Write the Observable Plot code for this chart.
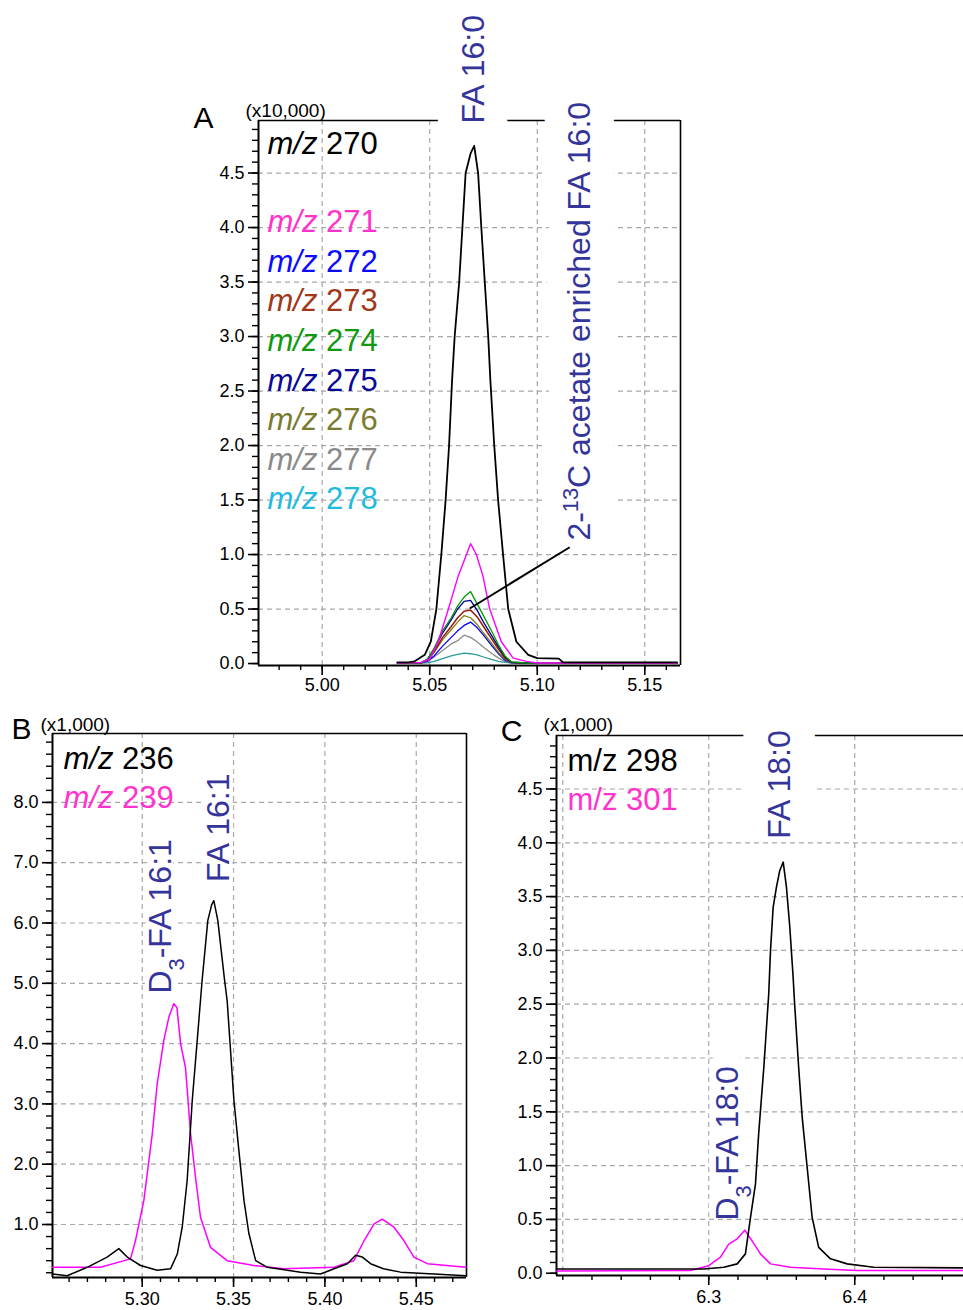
<!DOCTYPE html>
<html><head><meta charset="utf-8">
<script src="https://cdn.jsdelivr.net/npm/d3@7"></script>
<script src="https://cdn.jsdelivr.net/npm/@observablehq/plot@0.6"></script>
<style>
body{margin:0;background:#fff;}
#fig{position:relative;width:963px;height:1310px;overflow:hidden;background:#fff;}
#fig svg{position:absolute;}
</style></head><body><div id="fig"></div>
<script>
// ================= PANEL A (x10,000) =================
const rt270  = [5.035, 5.040, 5.043, 5.0477, 5.0505, 5.0531, 5.0554, 5.0574, 5.059, 5.0604, 5.0616, 5.0637, 5.0652, 5.0667, 5.069, 5.0707, 5.0725, 5.074, 5.0756, 5.0772, 5.0782, 5.080, 5.0818, 5.0841, 5.0865, 5.0903, 5.0958, 5.100, 5.110, 5.112, 5.165];
const int270 = [0.01, 0.01, 0.02, 0.08, 0.2, 0.5, 1.0, 1.5, 2.0, 2.6, 3.0, 3.5, 4.0, 4.5, 4.68, 4.75, 4.5, 4.0, 3.5, 3.0, 2.6, 2.0, 1.5, 1.0, 0.5, 0.2, 0.08, 0.05, 0.045, 0.01, 0.01];
const rt271  = [5.035, 5.046, 5.050, 5.0539, 5.0587, 5.0632, 5.0671, 5.069, 5.0717, 5.0748, 5.0779, 5.0833, 5.0888, 5.095, 5.100, 5.165];
const int271 = [0.005, 0.01, 0.04, 0.2, 0.5, 0.8, 1.0, 1.1, 1.0, 0.8, 0.5, 0.2, 0.05, 0.02, 0.005, 0.005];
const rtA    = [5.035, 5.046, 5.049, 5.052, 5.056, 5.060, 5.063, 5.066, 5.069, 5.072, 5.075, 5.079, 5.082, 5.085, 5.088, 5.095, 5.165];
const int272 = [0.005, 0.005, 0.02, 0.07, 0.16, 0.24, 0.30, 0.35, 0.38, 0.33, 0.26, 0.16, 0.09, 0.03, 0.008, 0.005, 0.005];
const int273 = [0.005, 0.006, 0.03, 0.11, 0.24, 0.34, 0.42, 0.48, 0.49, 0.43, 0.34, 0.22, 0.13, 0.05, 0.01, 0.005, 0.005];
const int274 = [0.005, 0.006, 0.04, 0.14, 0.30, 0.42, 0.53, 0.61, 0.66, 0.55, 0.44, 0.29, 0.17, 0.07, 0.015, 0.005, 0.005];
const int275 = [0.005, 0.006, 0.04, 0.13, 0.28, 0.40, 0.50, 0.57, 0.58, 0.49, 0.38, 0.25, 0.15, 0.06, 0.012, 0.005, 0.005];
const int276 = [0.005, 0.005, 0.03, 0.10, 0.22, 0.31, 0.38, 0.44, 0.42, 0.36, 0.28, 0.18, 0.10, 0.04, 0.01, 0.005, 0.005];
const int277 = [0.005, 0.005, 0.02, 0.06, 0.12, 0.18, 0.21, 0.26, 0.24, 0.20, 0.15, 0.09, 0.05, 0.02, 0.006, 0.005, 0.005];
const int278 = [0.003, 0.003, 0.006, 0.02, 0.045, 0.07, 0.085, 0.095, 0.09, 0.08, 0.06, 0.035, 0.02, 0.01, 0.004, 0.003, 0.003];
const legendTextA  = ["m/z 270", "m/z 271", "m/z 272", "m/z 273", "m/z 274", "m/z 275", "m/z 276", "m/z 277", "m/z 278"];
const legendColorA = ["#000000", "#ff33cc", "#0a0aff", "#a0381a", "#119911", "#0a0a99", "#7a7a30", "#8a8a8a", "#22bbdd"];
const labelTextA = ["FA 16:0", "2-13C acetate enriched FA 16:0"];
const labelRtA   = [5.0707, 5.1196];
const labelIntA  = [4.954, 1.128];
const labelPadA  = [24, 24];
const maskShiftA = [1, -1];   // mask pushed down (+) or up (-) by its padding
const leaderA = {x1: 5.0686, y1: 0.505, x2: 5.1151, y2: 1.067};

// ================= PANEL B (x1,000) =================
const rt236  = [5.2509, 5.2589, 5.2699, 5.2808, 5.2872, 5.2918, 5.2991, 5.3082, 5.3155, 5.3192, 5.3219, 5.3246, 5.3274, 5.3301, 5.3328, 5.3359, 5.3380, 5.3392, 5.3400, 5.3414, 5.3451, 5.3465, 5.3502, 5.3529, 5.3557, 5.3584, 5.3621, 5.3685, 5.3867, 5.3976, 5.405, 5.4123, 5.4168, 5.4205, 5.425, 5.432, 5.4414, 5.4597, 5.4772];
const int236 = [0.18, 0.15, 0.29, 0.46, 0.60, 0.46, 0.32, 0.24, 0.265, 0.51, 0.955, 1.73, 3.06, 4.05, 5.05, 6.04, 6.30, 6.37, 6.25, 6.04, 5.05, 4.71, 3.06, 2.23, 1.40, 0.85, 0.40, 0.29, 0.21, 0.18, 0.265, 0.35, 0.49, 0.46, 0.35, 0.265, 0.21, 0.18, 0.15];
const rt239  = [5.2509, 5.2772, 5.2936, 5.2963, 5.3009, 5.3055, 5.3082, 5.3118, 5.3146, 5.3173, 5.3190, 5.321, 5.3237, 5.3265, 5.3292, 5.3319, 5.3374, 5.3465, 5.3611, 5.3775, 5.405, 5.4159, 5.4214, 5.4269, 5.4314, 5.4378, 5.4433, 5.4487, 5.4561, 5.4772];
const int239 = [0.29, 0.29, 0.43, 0.73, 1.40, 2.5, 3.33, 4.05, 4.44, 4.66, 4.6, 4.0, 3.6, 2.5, 1.78, 1.12, 0.62, 0.40, 0.32, 0.265, 0.29, 0.40, 0.73, 1.01, 1.09, 0.955, 0.73, 0.46, 0.35, 0.29];
const legendTextB  = ["m/z 236", "m/z 239"];
const legendColorB = ["#000000", "#ff33cc"];
const labelTextB = ["D3-FA 16:1", "FA 16:1"];
const labelRtB   = [5.3101, 5.3421];
const labelIntB  = [4.83, 6.68];
const labelPadB  = [4, 4];
const maskShiftB = [-1, -1];

// ================= PANEL C (x1,000) =================
const rt298  = [6.1957, 6.2966, 6.3103, 6.3195, 6.3251, 6.3286, 6.332, 6.3342, 6.3377, 6.3411, 6.3423, 6.3441, 6.3464, 6.3486, 6.351, 6.3532, 6.3555, 6.3578, 6.3587, 6.3616, 6.364, 6.3674, 6.3708, 6.3753, 6.3834, 6.3948, 6.413, 6.4745];
const int298 = [0.04, 0.04, 0.056, 0.087, 0.18, 0.52, 0.83, 1.30, 1.91, 2.6, 3.0, 3.4, 3.59, 3.74, 3.82, 3.59, 3.22, 2.75, 2.53, 1.91, 1.45, 0.985, 0.52, 0.24, 0.134, 0.087, 0.056, 0.05];
const rt301  = [6.1957, 6.2875, 6.30, 6.308, 6.3137, 6.3195, 6.3247, 6.3297, 6.3354, 6.3423, 6.356, 6.3788, 6.4016, 6.4745];
const int301 = [0.02, 0.025, 0.07, 0.15, 0.27, 0.32, 0.40, 0.30, 0.18, 0.087, 0.056, 0.04, 0.025, 0.025];
const legendTextC  = ["m/z 298", "m/z 301"];
const legendColorC = ["#000000", "#ff33cc"];
const labelTextC = ["FA 18:0", "D3-FA 18:0"];
const labelRtC   = [6.3489, 6.3132];
const labelIntC  = [4.037, 0.49];
const labelPadC  = [25, 7];
const maskShiftC = [-1, -1];

// ================= helpers =================
const FONT = "Arial, 'Liberation Sans', Helvetica, sans-serif";
const LABEL_COLOR = "#34349b";
const GRID = {stroke: "#a8a8a8", strokeOpacity: 1, strokeWidth: 1.2, strokeDasharray: "5,4"};
const rng = (a, b, s) => d3.range(Math.round(a / s), Math.round(b / s) + 1).map(k => +(k * s).toFixed(3));
const pts = (xs, ys) => xs.map((x, i) => ({x, y: ys[i]}));

function buildPanel(cfg) {
  const [x0, x1] = cfg.xDomain, [y0, y1] = cfg.yDomain;
  const labels = cfg.labelText.map((t, i) => ({text: t, x: cfg.labelRt[i], y: cfg.labelInt[i], pad: cfg.labelPad[i], shift: cfg.maskShift[i]}));
  const marks = [
    Plot.gridX(cfg.xGrid, GRID),
    Plot.gridY(cfg.yGrid, GRID),
    Plot.ruleX([x0], {stroke: "black", strokeWidth: 2}),
    Plot.ruleY([y0], {stroke: "black", strokeWidth: 2}),
    Plot.ruleY([y1], {stroke: "black", strokeWidth: 1.6})
  ];
  if (cfg.rightBorder) marks.push(Plot.ruleX([x1], {stroke: "black", strokeWidth: 1.6}));
  labels.forEach(l => marks.push(Plot.text([l], {
    x: "x", y: "y", text: "text", rotate: -90, textAnchor: "start", lineAnchor: "middle",
    fontSize: 32, fill: "white", stroke: "white", strokeWidth: 2 * l.pad, strokeLinejoin: "round", dy: l.shift * l.pad
  })));
  cfg.series.forEach(s => marks.push(Plot.line(pts(s.xs, s.ys), {x: "x", y: "y", stroke: s.color, strokeWidth: s.width})));
  marks.push(Plot.text(labels, {x: "x", y: "y", text: "text", rotate: -90, textAnchor: "start", lineAnchor: "middle", fontSize: 32, fill: LABEL_COLOR}));
  marks.push(
    Plot.axisY(cfg.yMajor, {anchor: "left", tickSize: 10, tickPadding: 4, tickFormat: d3.format(".1f"), strokeWidth: 1.6, label: null, fontSize: 18}),
    Plot.axisY(cfg.yMinor, {anchor: "left", tickSize: 6, tickFormat: () => "", strokeWidth: 1.4, label: null}),
    Plot.axisX(cfg.xMajor, {anchor: "bottom", tickSize: 10, tickPadding: cfg.xPad, tickFormat: d3.format(cfg.xFmt), strokeWidth: 1.6, label: null, fontSize: 18}),
    Plot.axisX(cfg.xMinor, {anchor: "bottom", tickSize: 5, tickFormat: () => "", strokeWidth: 1.4, label: null})
  );
  cfg.legendText.forEach((t, i) => marks.push(Plot.text([t], {
    text: d => d, frameAnchor: "top-left", textAnchor: "start", lineAnchor: "middle",
    dx: cfg.legendDx, dy: cfg.legendDy(i), fill: cfg.legendColor[i], fontSize: 31
  })));
  marks.push(Plot.text([cfg.letter], {text: d => d, frameAnchor: "top-left", textAnchor: "middle", lineAnchor: "middle", dx: cfg.letterDx, dy: cfg.letterDy, fontSize: 30, fill: "black"}));
  marks.push(Plot.text([cfg.unit], {text: d => d, frameAnchor: "top-left", textAnchor: "start", lineAnchor: "middle", dx: cfg.unitDx, dy: cfg.unitDy, fontSize: 19, fill: "black"}));
  if (cfg.leader) marks.push(Plot.link([cfg.leader], {x1: "x1", y1: "y1", x2: "x2", y2: "y2", stroke: "black", strokeWidth: 2}));

  const svg = Plot.plot({
    width: cfg.width, height: cfg.height,
    marginLeft: cfg.m[0], marginRight: cfg.m[1], marginTop: cfg.m[2], marginBottom: cfg.m[3],
    x: {domain: cfg.xDomain}, y: {domain: cfg.yDomain},
    style: {fontFamily: FONT, fontSize: "18px", background: "transparent", color: "black", overflow: "visible"},
    marks
  });
  svg.querySelectorAll("text").forEach(t => {
    const s = t.textContent;
    if (cfg.italic && /^m\/z \d+$/.test(s)) t.innerHTML = `<tspan font-style="italic">m/z</tspan> ${s.slice(4)}`;
    else if (s.startsWith("D3-")) t.innerHTML = `D<tspan baseline-shift="sub" style="font-size:68%">3</tspan>-${s.slice(3)}`;
    else if (s.startsWith("2-13C")) t.innerHTML = `2-<tspan baseline-shift="super" style="font-size:68%">13</tspan>${s.slice(4)}`;
  });
  svg.style.left = cfg.left + "px";
  svg.style.top = cfg.top + "px";
  document.getElementById("fig").appendChild(svg);
}

// ---------- Panel A ----------
buildPanel({
  left: 0, top: 0, width: 963, height: 700, m: [258, 283, 120, 35],
  xDomain: [4.9704, 5.1666], yDomain: [-0.018, 4.982],
  xMajor: [5.00, 5.05, 5.10, 5.15], xMinor: rng(4.98, 5.16, 0.01), xGrid: [5.00, 5.05, 5.10, 5.15], xFmt: ".2f", xPad: 3,
  yMajor: rng(0, 4.5, 0.5), yMinor: rng(0, 4.9, 0.1), yGrid: rng(0.5, 4.5, 0.5),
  rightBorder: true, italic: true,
  series: [
    {xs: rtA, ys: int278, color: "#2a9a9a", width: 1.3},
    {xs: rtA, ys: int277, color: "#8c8c8c", width: 1.3},
    {xs: rtA, ys: int272, color: "#0000ff", width: 1.3},
    {xs: rtA, ys: int276, color: "#7f7f16", width: 1.3},
    {xs: rtA, ys: int273, color: "#9b1a0a", width: 1.5},
    {xs: rtA, ys: int275, color: "#00008f", width: 1.3},
    {xs: rtA, ys: int274, color: "#009a00", width: 1.3},
    {xs: rt271, ys: int271, color: "#ff00ff", width: 1.4},
    {xs: rt270, ys: int270, color: "#000000", width: 1.8}
  ],
  legendText: legendTextA, legendColor: legendColorA, legendDx: 9,
  legendDy: i => i === 0 ? 24 : 101.7 + (i - 1) * 39.6,
  labelText: labelTextA, labelRt: labelRtA, labelInt: labelIntA, labelPad: labelPadA, maskShift: maskShiftA,
  letter: "A", letterDx: -55, letterDy: -2, unit: "(x10,000)", unitDx: -13, unitDy: -10,
  leader: leaderA
});

// ---------- Panel B ----------
buildPanel({
  left: 0, top: 700, width: 490, height: 610, m: [52, 24, 33, 33],
  xDomain: [5.2509, 5.4775], yDomain: [0.121, 9.143],
  xMajor: [5.30, 5.35, 5.40, 5.45], xMinor: rng(5.26, 5.47, 0.01), xGrid: [5.30, 5.35, 5.40, 5.45], xFmt: ".2f", xPad: 5,
  yMajor: rng(1, 8, 1), yMinor: rng(0.2, 9.0, 0.2), yGrid: rng(1, 8, 1),
  rightBorder: true, italic: true,
  series: [
    {xs: rt239, ys: int239, color: "#ff00ff", width: 1.5},
    {xs: rt236, ys: int236, color: "#000000", width: 1.5}
  ],
  legendText: legendTextB, legendColor: legendColorB, legendDx: 11, legendDy: i => 26 + i * 39,
  labelText: labelTextB, labelRt: labelRtB, labelInt: labelIntB, labelPad: labelPadB, maskShift: maskShiftB,
  letter: "B", letterDx: -31, letterDy: -4, unit: "(x1,000)", unitDx: -12, unitDy: -9
});

// ---------- Panel C ----------
buildPanel({
  left: 490, top: 700, width: 473, height: 610, m: [66, 0, 35, 35],
  xDomain: [6.1957, 6.4745], yDomain: [-0.021, 4.997],
  xMajor: [6.3, 6.4], xMinor: rng(6.20, 6.46, 0.02), xGrid: [6.2, 6.3, 6.4], xFmt: ".1f", xPad: 5,
  yMajor: rng(0, 4.5, 0.5), yMinor: rng(0, 4.9, 0.1), yGrid: rng(0.5, 4.5, 0.5),
  rightBorder: false, italic: false,
  series: [
    {xs: rt301, ys: int301, color: "#ff00ff", width: 1.5},
    {xs: rt298, ys: int298, color: "#000000", width: 1.6}
  ],
  legendText: legendTextC, legendColor: legendColorC, legendDx: 11, legendDy: i => 26 + i * 39,
  labelText: labelTextC, labelRt: labelRtC, labelInt: labelIntC, labelPad: labelPadC, maskShift: maskShiftC,
  letter: "C", letterDx: -45, letterDy: -4, unit: "(x1,000)", unitDx: -13, unitDy: -11
});
</script></body></html>
